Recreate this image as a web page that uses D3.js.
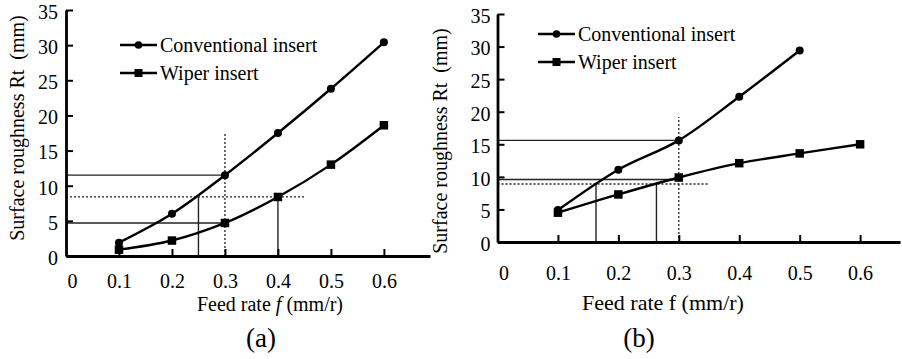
<!DOCTYPE html>
<html>
<head>
<meta charset="utf-8">
<script src="https://cdn.jsdelivr.net/npm/d3@7"></script>
<style>
  body { margin: 0; background: #fff; }
  svg text { font-family: "Liberation Serif", "Times New Roman", serif !important; fill: #000; }
</style>
</head>
<body>
<svg id="chart" width="902" height="359"></svg>
<script>
// feed rates (mm/r)
var feedRates = [0.1, 0.2, 0.3, 0.4, 0.5, 0.6];
var feedRatesConvB = [0.1, 0.2, 0.3, 0.4, 0.5];
// surface roughness Rt, panel (a)
var convA = [1.9, 6.0, 11.5, 17.5, 23.8, 30.4];
var wiperA = [0.9, 2.2, 4.7, 8.4, 13.0, 18.6];
// surface roughness Rt, panel (b)
var convB = [4.9, 11.1, 15.6, 22.3, 29.4];
var wiperB = [4.5, 7.3, 9.9, 12.1, 13.6, 15.0];

var yTicks = [0, 5, 10, 15, 20, 25, 30, 35];
var xTicks = [0, 0.1, 0.2, 0.3, 0.4, 0.5, 0.6];
var seriesNames = ["Conventional insert", "Wiper insert"];

// reading guides: [x1, y1, x2, y2, dotted]
var guidesA = [
  [0, 11.5, 0.3, 11.5, false],
  [0, 4.7, 0.3, 4.7, false],
  [0, 8.4, 0.45, 8.4, true],
  [0.3, 0, 0.3, 17.4, true],
  [0.25, 0, 0.25, 8.4, false],
  [0.4, 0, 0.4, 8.4, false]
];
var guidesB = [
  [0, 15.6, 0.3, 15.6, false],
  [0, 9.6, 0.3, 9.6, false],
  [0, 8.9, 0.35, 8.9, true],
  [0.3, 0, 0.3, 19.2, true],
  [0.163, 0, 0.163, 8.9, false],
  [0.263, 0, 0.263, 8.9, false]
];

var svg = d3.select("#chart");

function drawPanel(p) {
  var g = svg.append("g");
  var x = d3.scaleLinear().domain([0, p.xMax]).range(p.xRange);
  var y = d3.scaleLinear().domain([0, 35]).range(p.yRange);

  // guide lines
  g.selectAll("line.guide").data(p.guides).enter().append("line")
    .attr("class", "guide")
    .attr("x1", function(d) { return x(d[0]); })
    .attr("y1", function(d) { return y(d[1]); })
    .attr("x2", function(d) { return x(d[2]); })
    .attr("y2", function(d) { return y(d[3]); })
    .attr("stroke", "#222")
    .attr("stroke-width", function(d) { return d[4] ? 1.3 : 1.4; })
    .attr("stroke-dasharray", function(d) { return d[4] ? "2,2" : null; });

  // x axis
  var xAxis = d3.axisBottom(x).tickValues(xTicks).tickSizeInner(-7).tickSizeOuter(0)
    .tickPadding(p.xPad).tickFormat(function(d) { return d === 0 ? "0" : d3.format(".1f")(d); });
  var xa = g.append("g").attr("transform", "translate(0," + y(0) + ")").call(xAxis)
    .attr("font-family", null).attr("font-size", 20);
  xa.select(".domain").attr("stroke", "#000").attr("stroke-width", 2.8);
  xa.selectAll(".tick line").attr("stroke", "#000").attr("stroke-width", 2)
    .attr("opacity", function(d) { return d === 0 ? 0 : 1; });
  xa.selectAll(".tick text")
    .attr("dx", function(d) { return d === 0 ? 6 : 0; });

  // y axis
  var yAxis = d3.axisLeft(y).tickValues(yTicks).tickSizeInner(-7).tickSizeOuter(0).tickPadding(p.yPad);
  var ya = g.append("g").attr("transform", "translate(" + x(0) + ",0)").call(yAxis)
    .attr("font-family", null).attr("font-size", 20);
  ya.select(".domain").attr("stroke", "#000").attr("stroke-width", 2.8);
  ya.selectAll(".tick line").attr("stroke", "#000").attr("stroke-width", 2);
  ya.selectAll(".tick text").attr("dy", "0.42em");

  var line = d3.line()
    .x(function(d) { return x(d[0]); })
    .y(function(d) { return y(d[1]); })
    .curve(d3.curveCatmullRom.alpha(0.5));

  var conv = d3.zip(p.convX, p.conv);
  var wiper = d3.zip(feedRates, p.wiper);

  [conv, wiper].forEach(function(s) {
    g.append("path").datum(s).attr("d", line)
      .attr("fill", "none").attr("stroke", "#000").attr("stroke-width", 2.4);
  });

  g.selectAll("circle.pt").data(conv).enter().append("circle")
    .attr("class", "pt")
    .attr("cx", function(d) { return x(d[0]); })
    .attr("cy", function(d) { return y(d[1]); })
    .attr("r", 4).attr("fill", "#000");

  g.selectAll("rect.pt").data(wiper).enter().append("rect")
    .attr("class", "pt")
    .attr("x", function(d) { return x(d[0]) - 4.25; })
    .attr("y", function(d) { return y(d[1]) - 4.25; })
    .attr("width", 8.5).attr("height", 8.5).attr("fill", "#000");

  // legend
  var lg = g.append("g").attr("transform", "translate(" + p.legend[0] + "," + p.legend[1] + ")");
  seriesNames.forEach(function(name, i) {
    var row = lg.append("g").attr("transform", "translate(0," + (i * 28) + ")");
    row.append("line").attr("x1", 0).attr("x2", 37).attr("y1", 0).attr("y2", 0)
      .attr("stroke", "#000").attr("stroke-width", 2.6);
    if (i === 0) row.append("circle").attr("cx", 18.5).attr("cy", 0).attr("r", 3.8);
    else row.append("rect").attr("x", 14.5).attr("y", -4).attr("width", 8).attr("height", 8);
    row.append("text").attr("x", 40).attr("y", 7).attr("font-size", 20).text(name);
  });

  // titles
  g.append("text")
    .attr("transform", "translate(" + p.yTitle[0] + "," + p.yTitle[1] + ") rotate(-90)")
    .attr("text-anchor", "middle").attr("font-size", 20)
    .attr("xml:space", "preserve")
    .text("Surface roughness Rt  (mm)");

  var xt = g.append("text").attr("x", p.xTitle[0]).attr("y", p.xTitle[1])
    .attr("text-anchor", "middle").attr("font-size", p.xTitleSize)
    .attr("xml:space", "preserve");
  xt.append("tspan").text("Feed rate ");
  xt.append("tspan").attr("font-style", p.italicF ? "italic" : null).text("f");
  xt.append("tspan").text(" (mm/r)");

  g.append("text").attr("x", p.tag[0]).attr("y", p.tag[1])
    .attr("text-anchor", "middle").attr("font-size", 27).text(p.tagText);
}

drawPanel({
  xMax: 0.687, xRange: [66, 430], yRange: [256, 10],
  convX: feedRates, conv: convA, wiper: wiperA, guides: guidesA,
  xPad: 18, yPad: 8,
  legend: [120, 45], yTitle: [24, 128],
  xTitle: [270, 311], xTitleSize: 20, italicF: true,
  tag: [261, 347], tagText: "(a)"
});

drawPanel({
  xMax: 0.666, xRange: [497.5, 900], yRange: [242, 14],
  convX: feedRatesConvB, conv: convB, wiper: wiperB, guides: guidesB,
  xPad: 24, yPad: 7,
  legend: [538, 34], yTitle: [447, 141],
  xTitle: [663, 310], xTitleSize: 22, italicF: false,
  tag: [639, 347], tagText: "(b)"
});
</script>
</body>
</html>
